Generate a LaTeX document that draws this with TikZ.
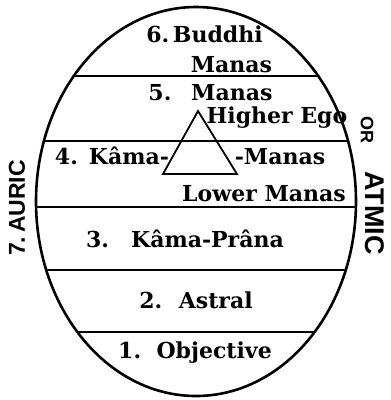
\documentclass[tikz,border=0pt]{standalone}
\usepackage{fontspec}
\setmainfont{DejaVu Serif}
\newfontfamily\sidefont{Liberation Sans}
\begin{document}
\begin{tikzpicture}[x=1pt, y=-1pt,
  plane/.style={font=\fontsize{22}{26}\selectfont\bfseries, inner sep=0pt, anchor=base},
  side/.style={font=\sidefont\fontsize{#1}{#1}\selectfont\bfseries, inner sep=0pt},
  rim/.style={line width=2.6pt},
  sep/.style={line width=1.9pt},
  tri/.style={line width=1.8pt, line join=miter}
]
  \useasboundingbox (0,0) rectangle (391,400);

  %% ── Egg and the dividing planes ───────────────────────────────────────────
  \coordinate (egg) at (196,201.5);
  \begin{scope}
    \clip (egg) ellipse [x radius=160, y radius=194.5];
    \foreach \y in {76,141,207,270,332}
      \draw[sep] (0,\y) -- (391,\y);
  \end{scope}
  \draw[rim] (egg) ellipse [x radius=160, y radius=194.5];

  %% ── Triangle of the Higher Ego ────────────────────────────────────────────
  \coordinate (apex) at (198,111);
  \coordinate (baseL) at (163,174);
  \coordinate (baseR) at (237,174);
  \draw[tri] (apex) -- (baseL) -- (baseR) -- cycle;

  %% ── Principles ────────────────────────────────────────────────────────────
  \node[plane] (buddhi) at (204.5,42) {6.\,Buddhi};
  \node[plane] (bmanas) at (231.5,72) {Manas};
  \node[plane] (manas) at (210.5,100) {5.\hspace{0.9em}Manas};
  \node[plane] (higher) at (277,123) {Higher Ego};
  \node[plane] (kama) at (112,164) {4.\hspace{0.5em}Kâma-};
  \node[plane] (kmanas) at (280,164) {-Manas};
  \node[plane] (lower) at (264,201) {Lower Manas};
  \node[plane] (prana) at (185,247) {3.\hspace{1em}Kâma-Prâna};
  \node[plane] (astral) at (196,308) {2.\hspace{0.75em}Astral};
  \node[plane] (object) at (195,358) {1.\hspace{0.7em}Objective};

  %% ── Outer envelope ────────────────────────────────────────────────────────
  \node[side=23, rotate=90] (auric) at (17,208) {7.\,AURIC};
  \node[side=18, rotate=-90] (or) at (367,130) {OR};
  \node[side=27, rotate=-90] (atmic) at (375,213) {ATMIC};
\end{tikzpicture}
\end{document}
